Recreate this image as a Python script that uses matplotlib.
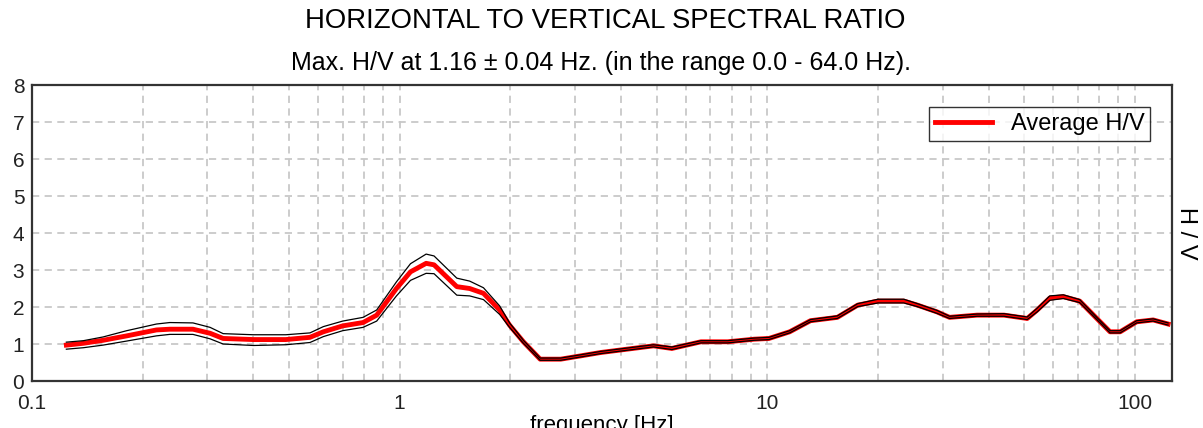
import matplotlib
matplotlib.use('Agg')
import matplotlib.pyplot as plt
from matplotlib.ticker import FixedLocator, FixedFormatter, LogLocator

plt.rcParams['font.family'] = ['Liberation Sans', 'DejaVu Sans']

# ---------------------------- data -------------------
freq = [0.124, 0.138, 0.156, 0.181, 0.218, 0.237, 0.274, 0.305, 0.331, 0.40,
        0.49, 0.57, 0.62, 0.70, 0.795, 0.866, 0.98, 1.07, 1.18, 1.24,
        1.43, 1.55, 1.69, 1.87, 1.99, 2.17, 2.41, 2.74, 3.11, 3.52,
        4.15, 4.9, 5.5, 6.6, 7.8, 9.2, 10.1, 11.5, 13.1, 15.5,
        17.6, 20.0, 23.5, 25.6, 28.9, 31.3, 37.2, 44.0, 50.9, 54.2,
        58.6, 63.8, 70.7, 78.7, 85.5, 91.1, 101, 112, 123]
hv_avg = [0.97, 1.02, 1.10, 1.22, 1.38, 1.40, 1.40, 1.29, 1.15, 1.12,
          1.12, 1.18, 1.33, 1.49, 1.58, 1.78, 2.50, 2.95, 3.18, 3.14,
          2.55, 2.50, 2.37, 1.92, 1.51, 1.06, 0.59, 0.59, 0.68, 0.77,
          0.86, 0.95, 0.88, 1.06, 1.06, 1.13, 1.15, 1.33, 1.63, 1.72,
          2.05, 2.16, 2.16, 2.05, 1.87, 1.72, 1.78, 1.78, 1.69, 1.92,
          2.24, 2.28, 2.16, 1.69, 1.33, 1.33, 1.60, 1.65, 1.54]
hv_upper = [1.05, 1.09, 1.19, 1.36, 1.54, 1.58, 1.57, 1.45, 1.28, 1.25,
            1.25, 1.30, 1.47, 1.62, 1.72, 1.92, 2.68, 3.17, 3.43, 3.38,
            2.78, 2.70, 2.52, 2.03, 1.57, 1.10, 0.62, 0.62, 0.71, 0.80,
            0.89, 0.98, 0.92, 1.09, 1.09, 1.16, 1.18, 1.36, 1.66, 1.76,
            2.09, 2.21, 2.21, 2.09, 1.91, 1.75, 1.81, 1.82, 1.73, 1.97,
            2.30, 2.33, 2.20, 1.72, 1.36, 1.36, 1.63, 1.68, 1.57]
hv_lower = [0.86, 0.90, 0.97, 1.08, 1.22, 1.26, 1.26, 1.14, 1.00, 0.96,
            0.98, 1.04, 1.20, 1.36, 1.45, 1.62, 2.30, 2.72, 2.91, 2.90,
            2.32, 2.30, 2.20, 1.80, 1.45, 1.02, 0.56, 0.56, 0.65, 0.74,
            0.83, 0.92, 0.85, 1.03, 1.03, 1.10, 1.12, 1.30, 1.60, 1.69,
            2.01, 2.11, 2.11, 2.01, 1.83, 1.69, 1.75, 1.75, 1.66, 1.87,
            2.18, 2.23, 2.12, 1.66, 1.30, 1.30, 1.57, 1.62, 1.51]
xtick_vals = [0.1, 1, 10, 100]
xtick_labels = ['0.1', '1', '10', '100']

# ---------------------------- figure --------------------------------------
fig = plt.figure(figsize=(12.03, 4.28), dpi=100)
ax = fig.add_axes([0.0266, 0.1098, 0.9476, 0.6916])

ax.plot(freq, hv_avg, color='red', lw=3.5, label='Average H/V', zorder=3)
ax.plot(freq, hv_upper, color='black', lw=0.9, zorder=4)
ax.plot(freq, hv_lower, color='black', lw=0.9, zorder=4)

ax.set_xscale('log')
ax.set_xlim(0.1, 126)
ax.set_ylim(0, 8)
ax.set_yticks(range(0, 9))
ax.xaxis.set_major_locator(FixedLocator(xtick_vals))
ax.xaxis.set_major_formatter(FixedFormatter(xtick_labels))
ax.xaxis.set_minor_locator(LogLocator(base=10, subs=range(2, 10)))
ax.xaxis.set_minor_formatter(FixedFormatter([]))

grid_style = dict(color='#c8c8c8', linestyle=(0, (4, 3)), linewidth=1.3)
ax.grid(True, which='major', axis='both', **grid_style)
ax.grid(True, which='minor', axis='x', **grid_style)
ax.set_axisbelow(True)

ax.tick_params(which='both', length=0, labelsize=15, colors='#222222')
ax.tick_params(axis='x', pad=9)
ax.tick_params(axis='y', pad=5.5)
for s in ax.spines.values():
    s.set_linewidth(1.6)
    s.set_color('#333333')

# label sits partly below the figure edge, as in the original picture
ax.set_xlabel('frequency [Hz]', fontsize=16, labelpad=2)
ax.yaxis.set_label_position('right')
ax.set_ylabel('H / V', fontsize=17, rotation=-90, labelpad=18)

leg = ax.legend(loc='upper right', bbox_to_anchor=(0.981, 0.926), fontsize=17,
                frameon=True, fancybox=False, handlelength=2.4, borderpad=0.25,
                handletextpad=0.8, borderaxespad=0)
leg.get_frame().set_edgecolor('black')
leg.get_frame().set_linewidth(1.0)

fig.text(0.503, 0.951, 'HORIZONTAL TO VERTICAL SPECTRAL RATIO', ha='center',
         va='center', fontsize=19.8)
fig.text(0.4995, 0.853, 'Max. H/V at 1.16 \u00b1 0.04 Hz. (in the range 0.0 - 64.0 Hz).',
         ha='center', va='center', fontsize=18)

fig.savefig('out.png', dpi=100)
